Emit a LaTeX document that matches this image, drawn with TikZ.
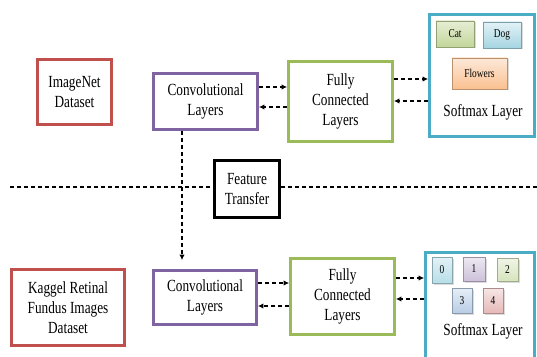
\documentclass[tikz,border=0pt]{standalone}
\usepackage{fontspec}
\setmainfont{Liberation Serif}[FakeStretch=0.78]
\usetikzlibrary{arrows.meta,shadows,calc}
\definecolor{cred}{HTML}{C0504D}
\definecolor{cpur}{HTML}{8064A2}
\definecolor{cgrn}{HTML}{9BBB59}
\definecolor{cblu}{HTML}{4BACC6}
\definecolor{catT}{HTML}{E6EED5}\definecolor{catB}{HTML}{C3D69B}
\definecolor{dogT}{HTML}{E3F2F6}\definecolor{dogB}{HTML}{A5D5E2}
\definecolor{flwT}{HTML}{FDE9D9}\definecolor{flwB}{HTML}{FAC090}
\definecolor{zT}{HTML}{E3F2F6}\definecolor{zB}{HTML}{B7DEE8}
\definecolor{oT}{HTML}{EDE9F2}\definecolor{oB}{HTML}{CCC1DA}
\definecolor{tT}{HTML}{F0F5E6}\definecolor{tB}{HTML}{D7E4BD}
\definecolor{hT}{HTML}{E6EEF7}\definecolor{hB}{HTML}{B9CDE5}
\definecolor{fT}{HTML}{F6E6E6}\definecolor{fB}{HTML}{E6B9B8}
\begin{document}
\begin{tikzpicture}[x=1pt,y=1pt,
  box/.style={draw=#1, line width=2.8pt, fill=white, align=center,
    font=\fontsize{17}{20}\selectfont, inner sep=0pt},
  dl/.style={line width=1.3pt, dash pattern=on 4pt off 3pt},
  arr/.style={dl, -{Latex[length=5.5pt,width=5.5pt]}},
  sm/.style 2 args={draw=#2!75!black, line width=0.4pt, top color=#1, bottom color=#2,
    drop shadow={shadow xshift=1.5pt, shadow yshift=-1.5pt, fill=gray!55},
    font=\fontsize{12}{14}\selectfont, inner sep=0pt},
  lbl/.style={font=\fontsize{17}{20}\selectfont, inner sep=0pt}]
\useasboundingbox (0,0) rectangle (537,356);
% top row
\node[box=cred, minimum width=74pt, minimum height=65pt] (inet) at (74.5,264) {ImageNet\\Dataset};
\node[box=cpur, minimum width=104pt, minimum height=56pt] (conv1) at (205.5,254.5) {Convolutional\\Layers};
\node[box=cgrn, minimum width=104pt, minimum height=80pt] (fc1) at (340.5,254.5) {Fully\\Connected\\Layers};
\node[box=cblu, minimum width=105pt, minimum height=122pt] (soft1) at (482,280.5) {};
\node[sm={catT}{catB}, minimum width=38pt, minimum height=26pt] (cat) at (455,322) {Cat};
\node[sm={dogT}{dogB}, minimum width=38pt, minimum height=26pt] (dog) at (502,321) {Dog};
\node[sm={flwT}{flwB}, minimum width=55pt, minimum height=31pt] (flw) at (479.5,282.5) {Flowers};
\node[lbl] (sl1) at (483,244) {Softmax Layer};
% transfer
\node[box=black, line width=3.2pt, minimum width=65pt, minimum height=57pt] (ft) at (247,167) {Feature\\Transfer};
\coordinate (hl) at (10,169);
\coordinate (hr) at (537,169);
\draw[dl] (hl) -- (hl -| ft.west);
\draw[dl] (ft.east |- hl) -- (hr);
% bottom row
\node[box=cred, minimum width=113pt, minimum height=76pt] (kag) at (68,48.5) {Kaggel Retinal\\Fundus Images\\Dataset};
\node[box=cpur, minimum width=103pt, minimum height=54pt] (conv2) at (205,58.5) {Convolutional\\Layers};
\node[box=cgrn, minimum width=104pt, minimum height=76pt] (fc2) at (342.5,59.5) {Fully\\Connected\\Layers};
\node[box=cblu, minimum width=109pt, minimum height=108pt] (soft2) at (480,49.5) {};
\node[sm={zT}{zB}, minimum width=20pt, minimum height=26pt] (s0) at (442,86) {0};
\node[sm={oT}{oB}, minimum width=22pt, minimum height=24pt] (s1) at (474,87) {1};
\node[sm={tT}{tB}, minimum width=21pt, minimum height=23pt] (s2) at (507.5,86.5) {2};
\node[sm={hT}{hB}, minimum width=20pt, minimum height=25pt] (s3) at (462,55.5) {3};
\node[sm={fT}{fB}, minimum width=20pt, minimum height=25pt] (s4) at (493,55.5) {4};
\node[lbl] (sl2) at (483,25) {Softmax Layer};
% arrows top
\draw[arr] ([yshift=14.5pt]conv1.east) -- ([yshift=14.5pt]conv1.east -| fc1.west);
\draw[arr] ([yshift=-5.5pt]fc1.west) -- ([yshift=-5.5pt]fc1.west -| conv1.east);
\draw[arr] ([yshift=22.5pt]fc1.east) -- ([yshift=22.5pt]fc1.east -| soft1.west);
\draw[arr] ([yshift=0.5pt]soft1.west |- fc1.east) -- ([yshift=0.5pt]fc1.east);
% arrows bottom
\draw[arr] ([yshift=14.5pt]conv2.east) -- ([yshift=14.5pt]conv2.east -| fc2.west);
\draw[arr] ([yshift=-9.5pt]fc2.west) -- ([yshift=-9.5pt]fc2.west -| conv2.east);
\draw[arr] ([yshift=18.5pt]fc2.east) -- ([yshift=18.5pt]fc2.east -| soft2.west);
\draw[arr] ([yshift=-2.5pt]soft2.west |- fc2.east) -- ([yshift=-2.5pt]fc2.east);
% vertical transfer
\coordinate (v1) at ([xshift=-23.5pt]conv1.south);
\draw[arr] (v1) -- ($(v1 |- conv2.north)+(0,9)$);
\end{tikzpicture}
\end{document}
